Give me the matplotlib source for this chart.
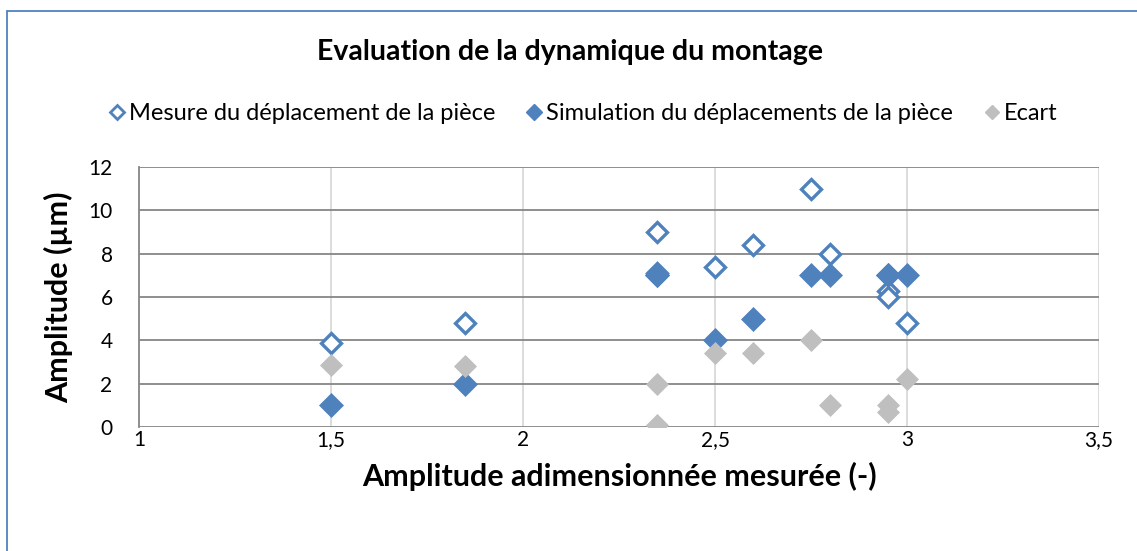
import matplotlib
matplotlib.use("Agg")
import matplotlib.pyplot as plt
from matplotlib.lines import Line2D
from matplotlib.patches import Rectangle

# Amplitude adimensionnée mesurée
x_vals = [1.5, 1.85, 2.35, 2.35, 2.5, 2.6, 2.75, 2.8, 2.95, 2.95, 3.0]
# Amplitudes (µm)
mesure = [3.86, 4.8, 9.0, 7.1, 7.4, 8.4, 11.0, 8.0, 6.3, 6.0, 4.8]
simulation = [1.0, 2.0, 7.0, 7.0, 4.0, 5.0, 7.0, 7.0, 7.0, 7.0, 7.0]
ecart = [2.86, 2.8, 2.0, 0.1, 3.4, 3.4, 4.0, 1.0, 0.7, 1.0, 2.2]

x_ticks = [1, 1.5, 2, 2.5, 3, 3.5]
x_tick_labels = ["1", "1,5", "2", "2,5", "3", "3,5"]
y_ticks = [0, 2, 4, 6, 8, 10, 12]

BLUE = "#4F81BD"
GRAY = "#BFBFBF"

plt.rcParams["font.family"] = ["Lato", "DejaVu Sans"]

W, H = 1137, 551
fig = plt.figure(figsize=(W / 100, H / 100), dpi=100)
fig.patch.set_facecolor("white")

# outer chart frame
fig.add_artist(Rectangle((7 / W, -0.1), 1.2, 1 - 11 / H + 0.1,
                         transform=fig.transFigure, fill=False,
                         edgecolor=BLUE, linewidth=1.3))

ax = fig.add_axes([139 / W, 1 - 427 / H, (1099 - 139) / W, (427 - 167) / H])
ax.set_xlim(1, 3.5)
ax.set_ylim(0, 12)

for s in ["top", "right", "bottom"]:
    ax.spines[s].set_visible(False)
ax.spines["left"].set_color("#868686")
ax.spines["left"].set_linewidth(1.3)

for yv in y_ticks:
    ax.axhline(yv, color="#868686", linewidth=1.3, zorder=1)
for xv in x_ticks[1:]:
    ax.axvline(xv, color="#D9D9D9", linewidth=1.3, zorder=0.5)

ax.set_xticks(x_ticks)
ax.set_xticklabels(x_tick_labels)
ax.set_yticks(y_ticks)
ax.tick_params(axis="both", length=0, labelsize=15, colors="black")
ax.tick_params(axis="x", pad=2)
ax.tick_params(axis="y", pad=19)

# series drawn in order: measurement, simulation, then the gap on top
ax.plot(x_vals, mesure, linestyle="none", marker="D", markersize=10.5,
        markerfacecolor="white", markeredgecolor=BLUE, markeredgewidth=2.4, zorder=3)
ax.plot(x_vals, simulation, linestyle="none", marker="D", markersize=12,
        markerfacecolor=BLUE, markeredgecolor=BLUE, markeredgewidth=0.5, zorder=4)
ax.plot(x_vals, ecart, linestyle="none", marker="D", markersize=11,
        markerfacecolor=GRAY, markeredgecolor=GRAY, markeredgewidth=0.5, zorder=5)

ax.set_xlabel("Amplitude adimensionnée mesurée (-)", fontsize=22,
              fontweight="bold", labelpad=9)
ax.set_ylabel("Amplitude (µm)", fontsize=22, fontweight="bold", labelpad=11)

fig.text(570 / W, 1 - 52 / H, "Evaluation de la dynamique du montage",
         ha="center", va="center", fontsize=20.5, fontweight="bold")

handles = [
    Line2D([], [], linestyle="none", marker="D", markersize=7.5,
           markerfacecolor="white", markeredgecolor=BLUE, markeredgewidth=2),
    Line2D([], [], linestyle="none", marker="D", markersize=8.5,
           markerfacecolor=BLUE, markeredgecolor=BLUE),
    Line2D([], [], linestyle="none", marker="D", markersize=7.5,
           markerfacecolor=GRAY, markeredgecolor=GRAY),
]
labels = ["Mesure du déplacement de la pièce",
          "Simulation du déplacements de la pièce",
          "Ecart"]
fig.legend(handles, labels, loc="center", bbox_to_anchor=(583 / W, 1 - 114 / H),
           ncol=3, frameon=False, fontsize=17, handlelength=0.7,
           handletextpad=0.15, columnspacing=1.3)

fig.savefig("out.png", dpi=100)
